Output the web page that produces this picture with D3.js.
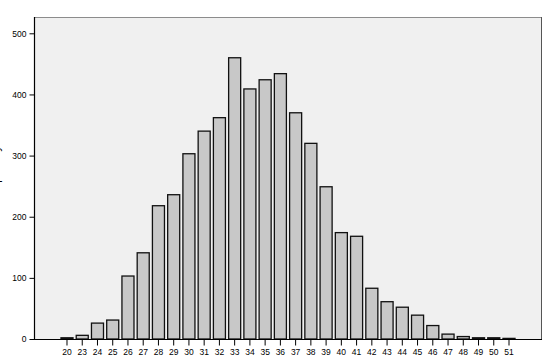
<!DOCTYPE html>
<html><head><meta charset="utf-8">
<script src="https://cdn.jsdelivr.net/npm/d3@7"></script>
<style>
body{margin:0;background:#fff;}
svg{display:block;}
text{font-family:"Liberation Sans",Arial,sans-serif;}
</style></head>
<body>
<svg id="chart" width="554" height="364"></svg>
<script>
const categories = ["20","23","24","25","26","27","28","29","30","31","32","33","34","35","36","37","38","39","40","41","42","43","44","45","46","47","48","49","50","51"];
const counts = [2,6,26,31,103,141,218,236,303,340,362,460,409,424,434,370,320,249,174,168,83,61,52,39,22,8,4,2,2,1];
const yTicks = [0,100,200,300,400,500];
const yTitle = "Frequency";

const svg = d3.select("#chart");
const L = 34, R = 542, T = 17, B = 339;

const y = d3.scaleLinear().domain([0, 500]).range([B, 33.3]);
const x = d3.scaleBand().domain(categories).range([L, R]).paddingInner(0.21).paddingOuter(1.77);

// plot background
svg.append("rect").attr("x", L).attr("y", T).attr("width", R - L).attr("height", B - T).attr("fill", "#f0f0f0");
svg.append("line").attr("x1", L).attr("x2", R).attr("y1", T + 0.5).attr("y2", T + 0.5).attr("stroke", "#8c8c8c");
svg.append("line").attr("x1", R - 0.5).attr("x2", R - 0.5).attr("y1", T).attr("y2", B).attr("stroke", "#555");

// bars
svg.append("g").selectAll("rect").data(categories).join("rect")
  .attr("x", d => x(d))
  .attr("y", (d, i) => y(counts[i]))
  .attr("width", x.bandwidth())
  .attr("height", (d, i) => B - y(counts[i]))
  .attr("fill", "#c8c8c8")
  .attr("stroke", "#111")
  .attr("stroke-width", 1.3);

// y axis
const yAxis = d3.axisLeft(y).tickValues(yTicks).tickSize(5).tickPadding(3).tickSizeOuter(0);
const gy = svg.append("g").attr("transform", `translate(${L + 0.5},0)`).call(yAxis);
gy.select(".domain").attr("d", `M0,${T}V${B}`).attr("stroke", "#000").attr("stroke-width", 1.2);
gy.selectAll("text").attr("font-size", "8.5px").attr("fill", "#000").attr("font-family", "Liberation Sans, Arial, sans-serif");
gy.selectAll(".tick line").attr("stroke", "#000");

// x axis
const xAxis = d3.axisBottom(x).tickSize(6).tickPadding(3).tickSizeOuter(0);
const gx = svg.append("g").attr("transform", `translate(0,${B + 0.5})`).call(xAxis);
gx.select(".domain").attr("d", `M${L},0H${R}`).attr("stroke", "#000").attr("stroke-width", 1.2);
gx.selectAll("text").attr("font-size", "8.5px").attr("fill", "#000").attr("font-family", "Liberation Sans, Arial, sans-serif");
gx.selectAll(".tick line").attr("stroke", "#000");

// y title (clipped off the left edge, as in the reference)
svg.append("text")
  .attr("transform", "translate(-1.5,176) rotate(-90)")
  .attr("text-anchor", "middle")
  .attr("font-size", "13px")
  .attr("fill", "#000")
  .text(yTitle);
</script>
</body></html>
